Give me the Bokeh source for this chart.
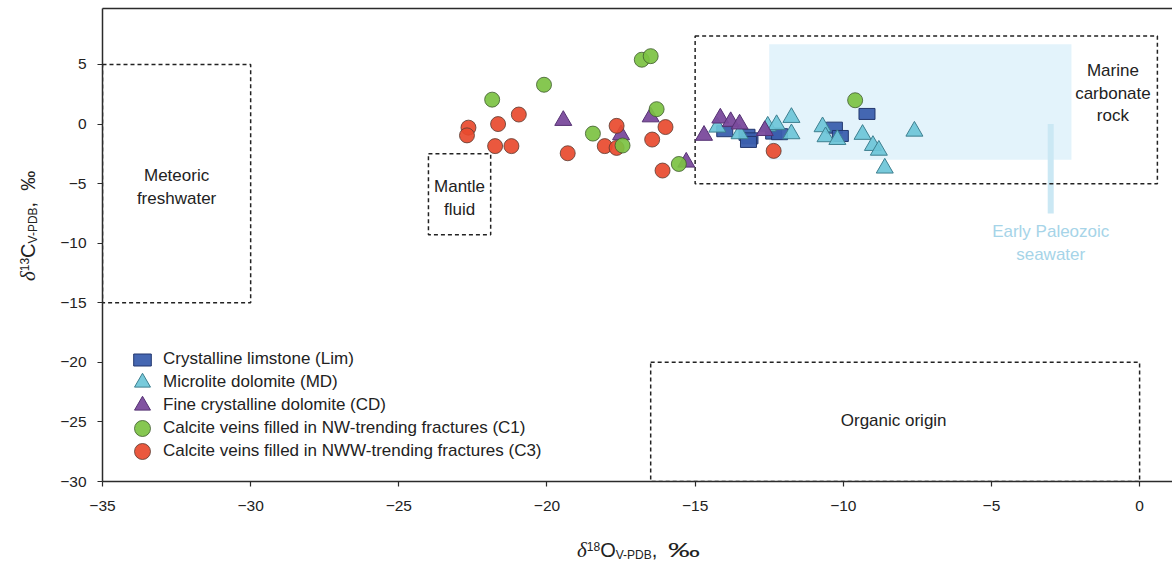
from bokeh.plotting import figure
from bokeh.models import (Range1d, FixedTicker, LinearAxis, Legend, LegendItem, Label, Div)
from bokeh.layouts import row, column
from bokeh.embed import file_html
from bokeh.resources import INLINE

# ---------------- data ----------------
lim_x = [-14.0, -13.25, -13.15, -13.2, -12.35, -12.15, -10.3, -10.1, -9.2]
lim_y = [-0.6, -0.9, -1.2, -1.5, -0.8, -0.85, -0.3, -1.0, 0.85]

md_x = [-14.25, -13.5, -12.55, -12.25, -11.75, -11.75, -10.7, -10.6, -10.2, -9.35, -9.0, -8.8, -8.6, -7.6]
md_y = [-0.26, -0.82, -0.18, -0.05, 0.55, -0.82, -0.23, -1.07, -1.3, -0.87, -1.8, -2.2, -3.7, -0.6]

cd_x = [-19.45, -17.5, -16.5, -15.3, -14.7, -14.15, -13.8, -13.5, -12.65]
cd_y = [0.3, -0.9, 0.6, -3.2, -0.95, 0.5, 0.2, 0.0, -0.55]

c1_x = [-21.85, -20.1, -16.8, -16.5, -16.3, -18.45, -17.45, -15.55, -9.6]
c1_y = [2.05, 3.3, 5.4, 5.7, 1.25, -0.8, -1.8, -3.35, 2.0]

c3_x = [-22.65, -22.7, -21.65, -20.95, -21.75, -21.2, -19.3, -18.05, -17.65, -17.65, -16.0, -16.45, -16.1, -12.35]
c3_y = [-0.3, -0.95, 0.0, 0.8, -1.85, -1.85, -2.45, -1.85, -0.15, -2.0, -0.25, -1.3, -3.9, -2.25]

series_labels = ["Crystalline limstone (Lim)", "Microlite dolomite (MD)",
                 "Fine crystalline dolomite (CD)",
                 "Calcite veins filled in NW-trending fractures (C1)",
                 "Calcite veins filled in NWW-trending fractures (C3)"]

x_ticks = [-35, -30, -25, -20, -15, -10, -5, 0]
y_ticks = [5, 0, -5, -10, -15, -20, -25, -30]

# reference zones: left, right, top, bottom
zone_names = ["Meteoric\nfreshwater", "Mantle\nfluid", "Marine\ncarbonate\nrock", "Organic origin"]
zone_left = [-35, -24.0, -15.0, -16.5]
zone_right = [-30, -21.9, 0.6, 0.0]
zone_top = [5, -2.5, 7.4, -20]
zone_bottom = [-15, -9.3, -5.0, -30]
zone_label_x = [-32.5, -22.95, -0.9, -8.3]
zone_label_y = [-5.3, -6.2, 2.6, -24.9]

seawater_left, seawater_right, seawater_top, seawater_bottom = -12.5, -2.3, 6.7, -3.0
seawater_bar_x, seawater_bar_y0, seawater_bar_y1 = -3.0, 0.0, -7.5
seawater_label = "Early Paleozoic\nseawater"
seawater_label_y = -10.0

FONT = "Liberation Sans"
AX = "#2b2b2b"

p = figure(width=1122, height=526, output_backend="svg", toolbar_location=None,
           x_range=Range1d(-35, 1.11), y_range=Range1d(-30, 9.7),
           min_border_left=52, min_border_right=0, min_border_top=8, min_border_bottom=45,
           x_axis_type=None, y_axis_type=None)
p.outline_line_color = None
p.xgrid.visible = False
p.ygrid.visible = False

def minus(v):
    return str(v).replace("-", "\u2212")

xaxis = LinearAxis(ticker=FixedTicker(ticks=x_ticks),
                   major_label_overrides={t: minus(t) for t in x_ticks})
yaxis = LinearAxis(ticker=FixedTicker(ticks=y_ticks),
                   major_label_overrides={t: minus(t) for t in y_ticks})
for ax, standoff in ((xaxis, 14), (yaxis, 11)):
    ax.axis_line_color = AX
    ax.axis_line_width = 1.5
    ax.major_tick_line_color = AX
    ax.major_tick_line_width = 1.2
    ax.major_tick_out = 5
    ax.major_tick_in = 0
    ax.minor_tick_line_color = None
    ax.major_label_text_font = FONT
    ax.major_label_text_font_size = "15.5px"
    ax.major_label_text_color = "#222222"
    ax.major_label_standoff = standoff
p.add_layout(xaxis, "below")
p.add_layout(yaxis, "left")

top = LinearAxis(ticker=FixedTicker(ticks=[]), axis_line_color=AX, axis_line_width=1.5,
                 major_tick_out=0, major_tick_in=0, minor_tick_out=0, minor_tick_in=0,
                 major_label_standoff=0, major_label_text_font_size="0px")
p.add_layout(top, "above")

# seawater band
p.quad(left=[seawater_left], right=[seawater_right], top=[seawater_top], bottom=[seawater_bottom],
       fill_color="#e3f3fb", line_color=None)
p.segment(x0=[seawater_bar_x], x1=[seawater_bar_x], y0=[seawater_bar_y0], y1=[seawater_bar_y1],
          line_color="#cbe8f4", line_width=6)

# zone boxes
p.quad(left=zone_left, right=zone_right, top=zone_top, bottom=zone_bottom,
       fill_color=None, line_color="#222222", line_width=1.5, line_dash="4 3")

# data
r_lim = p.rect(lim_x, lim_y, width=16, height=11, width_units="screen", height_units="screen",
               fill_color="#3b5fae", fill_alpha=0.95, line_color="#22376e", line_width=1)
r_md = p.scatter(md_x, md_y, marker="triangle", size=17, fill_color="#6cc5d8", fill_alpha=0.92,
                 line_color="#3d7f8f", line_width=1)
r_cd = p.scatter(cd_x, cd_y, marker="triangle", size=17, fill_color="#7a4a9c", fill_alpha=0.95,
                 line_color="#553173", line_width=1)
r_c3 = p.scatter(c3_x, c3_y, marker="circle", size=15, fill_color="#e84a2e", fill_alpha=0.92,
                 line_color="#5a3a30", line_alpha=0.8, line_width=1)
r_c1 = p.scatter(c1_x, c1_y, marker="circle", size=15, fill_color="#7cc242", fill_alpha=0.92,
                 line_color="#3f5a2e", line_alpha=0.8, line_width=1)

# zone labels
for name, lx, ly in zip(zone_names, zone_label_x, zone_label_y):
    p.add_layout(Label(x=lx, y=ly, text=name, text_align="center", text_baseline="middle",
                       text_font=FONT, text_font_size="17px", text_color="#222222",
                       text_line_height=1.2))
p.add_layout(Label(x=seawater_bar_x, y=seawater_label_y, text=seawater_label, text_align="center",
                   text_baseline="middle", text_font=FONT, text_font_size="17px",
                   text_color="#a6d4e8", text_line_height=1.2))

# legends: one per row so that rows sit 23 px apart
def legend(label, rend, loc, gw, gh, standoff):
    lg = Legend(items=[LegendItem(label=label, renderers=[rend])],
                location=loc, glyph_width=gw, glyph_height=gh, label_height=15,
                label_standoff=standoff, padding=0, margin=0, spacing=0,
                label_text_font=FONT, label_text_font_size="17px", label_text_color="#222222",
                border_line_color=None, background_fill_alpha=0)
    p.add_layout(lg)

legend(series_labels[0], r_lim, (29, 112), 22, 15, 10)
legend(series_labels[1], r_md, (20, 79), 40, 40, 1)
legend(series_labels[2], r_cd, (20, 56), 40, 40, 1)
legend(series_labels[3], r_c1, (20, 33), 40, 40, 1)
legend(series_labels[4], r_c3, (20, 10), 40, 40, 1)

# axis titles as HTML text (superscript / subscript)
SUP = "font-size:12px;vertical-align:6px;line-height:0;"
SUB = "font-size:12px;vertical-align:-2px;line-height:0;"
DELTA = "font-family:'Liberation Serif';font-style:italic;font-size:21px;"
BASE = ("position:absolute;white-space:nowrap;font-family:'Liberation Sans';"
        "font-size:20px;line-height:23px;color:#222222;")

def title_html(iso, elem, permil_scale):
    permil = (f"<span style=\"display:inline-block;transform:scaleX({permil_scale});"
              f"transform-origin:0 50%;\">\u2030</span>")
    return (f"<span style=\"{DELTA}\">\u03b4</span><span style=\"{SUP}\">{iso}</span>{elem}"
            f"<span style=\"{SUB}\">V-PDB</span>,&nbsp;&nbsp;{permil}")

ydiv = Div(width=50, height=566, margin=0,
           text=(f"<div style=\"position:relative;width:50px;height:566px;\">"
                 f"<div style=\"{BASE}left:17px;top:281px;transform:rotate(-90deg);transform-origin:0 0;\">"
                 f"{title_html('13', 'C', 1.0)}</div></div>"))
xdiv = Div(width=1122, height=40, margin=0,
           text=(f"<div style=\"position:relative;width:1122px;height:40px;\">"
                 f"<div style=\"{BASE}left:527px;top:13px;\">{title_html('18', 'O', 1.6)}</div></div>"))

layout = row(ydiv, column(p, xdiv, spacing=0), spacing=0)

open("out.html", "w").write(file_html(layout, INLINE))
